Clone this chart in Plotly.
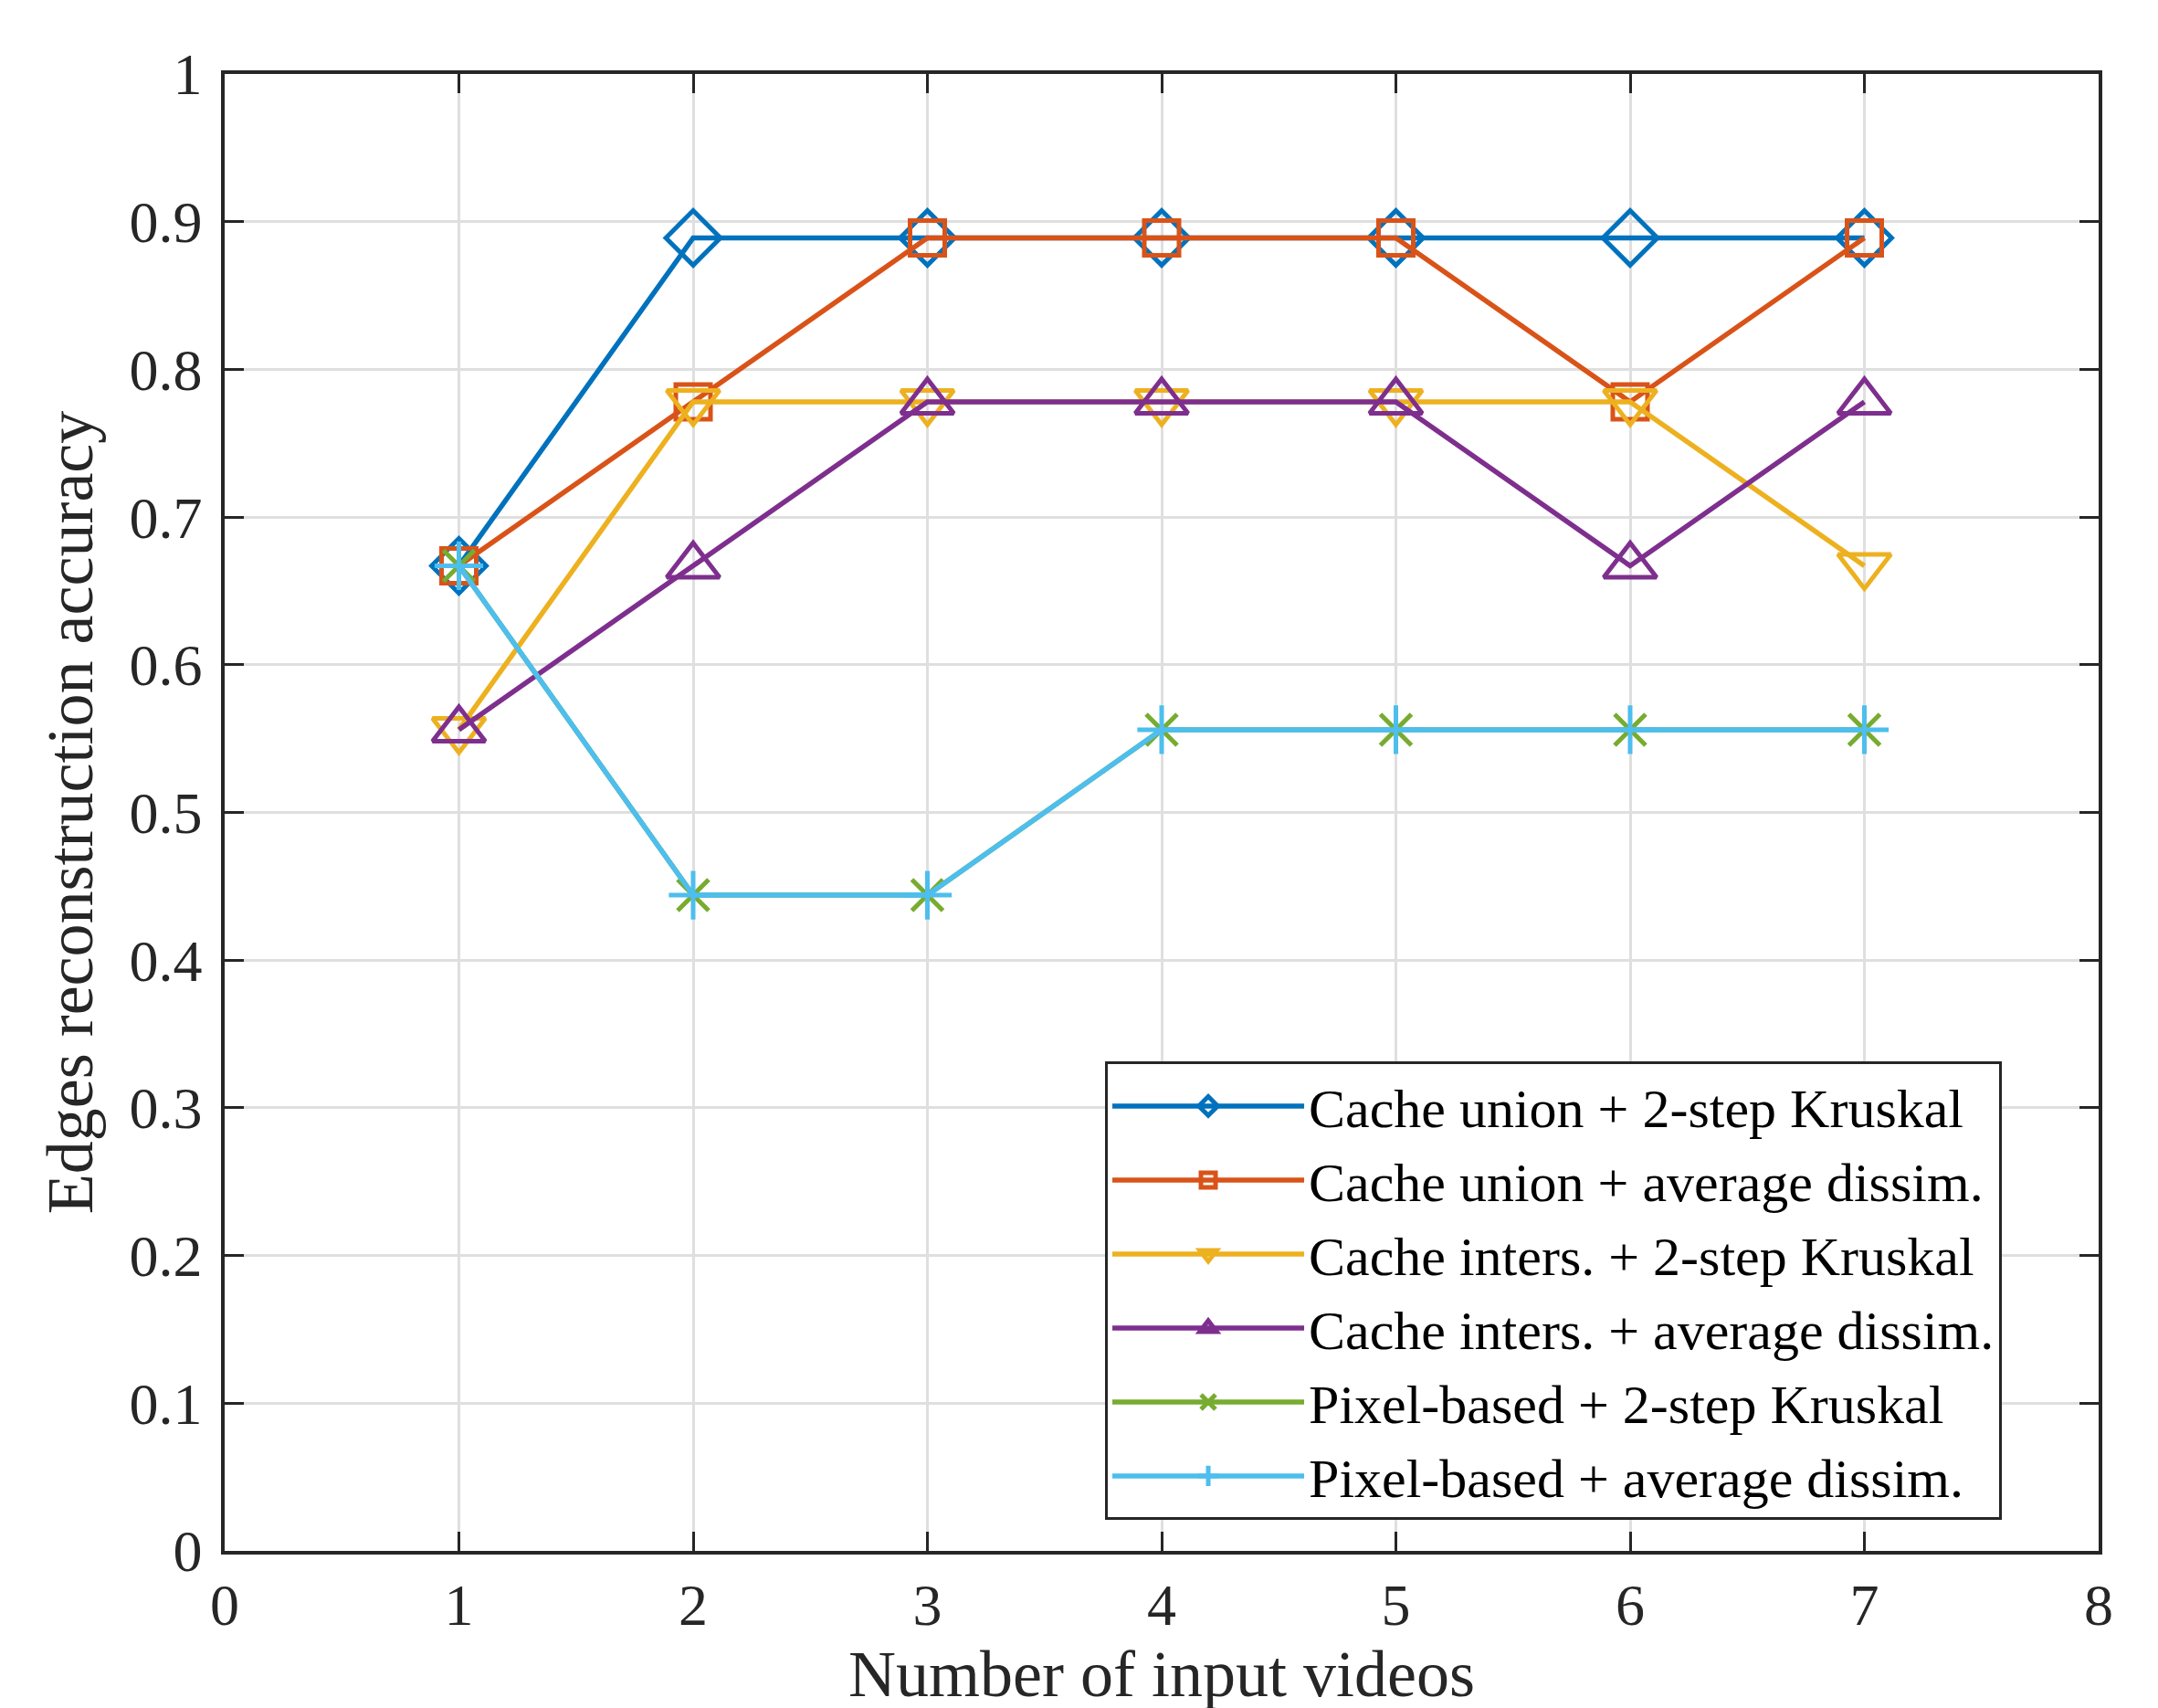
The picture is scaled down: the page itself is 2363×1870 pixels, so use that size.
import plotly.graph_objects as go

x_videos = [1, 2, 3, 4, 5, 6, 7]

names = [
    "Cache union + 2-step Kruskal",
    "Cache union + average dissim.",
    "Cache inters. + 2-step Kruskal",
    "Cache inters. + average dissim.",
    "Pixel-based + 2-step Kruskal",
    "Pixel-based + average dissim.",
]

union_kruskal = [0.667, 0.889, 0.889, 0.889, 0.889, 0.889, 0.889]
union_avg = [0.667, 0.778, 0.889, 0.889, 0.889, 0.778, 0.889]
inters_kruskal = [0.556, 0.778, 0.778, 0.778, 0.778, 0.778, 0.667]
inters_avg = [0.556, 0.667, 0.778, 0.778, 0.778, 0.667, 0.778]
pixel_kruskal = [0.667, 0.444, 0.444, 0.556, 0.556, 0.556, 0.556]
pixel_avg = [0.667, 0.444, 0.444, 0.556, 0.556, 0.556, 0.556]

series = [union_kruskal, union_avg, inters_kruskal, inters_avg, pixel_kruskal, pixel_avg]
colors = ["#0072BD", "#D95319", "#EDB120", "#7E2F8E", "#77AC30", "#4DBEEE"]
symbols = ["diamond-open", "square-open", "triangle-down-open", "triangle-up-open",
           "x-thin-open", "cross-thin-open"]
msizes = [46, 38, 50, 50, 34, 38]

x_ticks = list(range(0, 9))
y_ticks = [0, 0.1, 0.2, 0.3, 0.4, 0.5, 0.6, 0.7, 0.8, 0.9, 1]
y_ticktext = ["0", "0.1", "0.2", "0.3", "0.4", "0.5", "0.6", "0.7", "0.8", "0.9", "1"]

FONT = "Liberation Serif"
AX = "#262626"

fig = go.Figure()
for name, ys, c, s, ms in zip(names, series, colors, symbols, msizes):
    fig.add_trace(go.Scatter(
        x=x_videos, y=ys, name=name, mode="lines+markers",
        line=dict(color=c, width=5.5),
        marker=dict(symbol=s, size=ms, color=c, line=dict(color=c, width=5)),
    ))

axis_common = dict(
    showline=True, linecolor=AX, linewidth=3.5, mirror="ticks",
    ticks="inside", ticklen=21, tickwidth=3, tickcolor=AX,
    showgrid=True, gridcolor="#DFDFDF", gridwidth=3,
    zeroline=False,
    tickfont=dict(family=FONT, size=64, color=AX),
)

fig.update_xaxes(
    range=[0, 8], tickvals=x_ticks, ticktext=[str(v) for v in x_ticks],
    title=dict(text="Number of input videos", font=dict(family=FONT, size=72, color=AX), standoff=11),
    ticklabelstandoff=0,
    **axis_common,
)
fig.update_yaxes(
    range=[0, 1], tickvals=y_ticks, ticktext=y_ticktext,
    title=dict(text="Edges reconstruction accuracy", font=dict(family=FONT, size=72, color=AX), standoff=17),
    ticklabelstandoff=8,
    **axis_common,
)

fig.update_layout(
    width=2363, height=1870,
    margin=dict(l=238, r=73, t=73, b=180, autoexpand=False),
    paper_bgcolor="white", plot_bgcolor="white",
    font=dict(family=FONT, color=AX),
    legend=dict(
        x=0.4698, y=0.176, xanchor="left", yanchor="middle",
        bgcolor="white", bordercolor=AX, borderwidth=3,
        font=dict(family=FONT, size=60, color="black"),
        itemwidth=210, tracegroupgap=0,
    ),
    showlegend=True,
)

fig.write_html("out.html")
